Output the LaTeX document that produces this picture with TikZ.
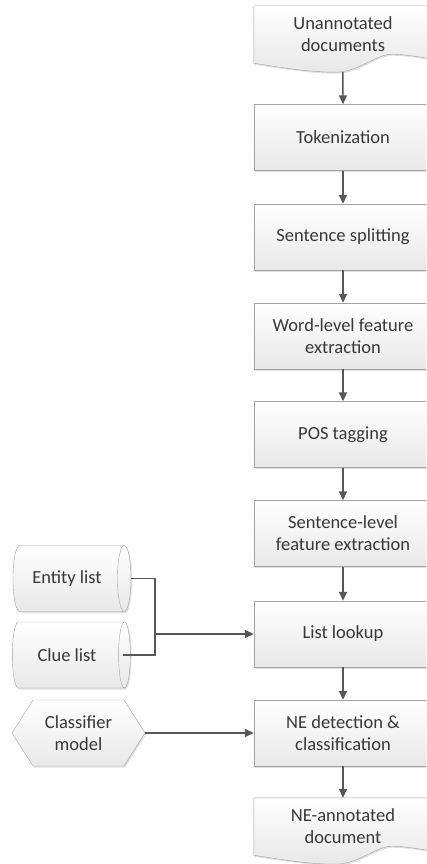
\documentclass[tikz,border=0pt]{standalone}
\usepackage{fontspec}
\setmainfont{Carlito}
\usetikzlibrary{arrows.meta,calc,shapes.geometric,shapes.symbols,shadows,backgrounds}
\definecolor{boxline}{HTML}{A3A3A3}
\definecolor{flowline}{HTML}{575757}
\definecolor{boxtext}{HTML}{383838}
\newcommand{\docwave}[1]{%
  \draw[docline] (#1.north west) -- (#1.north east) -- ($(#1.south east)+(0,-4)$)
    .. controls ($(#1.south west)+(168,-6)$) and ($(#1.south west)+(150,-9)$) .. ($(#1.south west)+(138,-9)$)
    .. controls ($(#1.south west)+(122,-9)$) and ($(#1.south west)+(105,9)$) .. ($(#1.south west)+(81,9)$)
    .. controls ($(#1.south west)+(55,9)$) and ($(#1.south west)+(25,4)$) .. (#1.south west) -- cycle;}

\begin{document}
\begin{tikzpicture}[
    x=1pt, y=-1pt,
    every node/.style={font=\fontsize{18.5}{22}\selectfont, text=boxtext},
    softshadow/.style={drop shadow={shadow xshift=1.2pt, shadow yshift=-1.5pt, opacity=0.35, fill=black!35}},
    proc/.style={rectangle, draw=boxline, top color=white, bottom color=black!9, softshadow,
      minimum width=178pt, minimum height=66pt, align=center},
    docbox/.style={rectangle, minimum width=178pt, minimum height=57pt, align=center},
    docline/.style={draw=boxline, top color=white, bottom color=black!9, softshadow},
    store/.style={cylinder, draw=boxline, top color=white, bottom color=black!9, softshadow,
      aspect=0.6, minimum width=66pt, minimum height=118pt, align=center},
    model/.style={signal, signal to=west and east, signal pointer angle=115, draw=boxline,
      top color=white, bottom color=black!9, softshadow,
      minimum width=133pt, minimum height=66pt, align=center},
    link/.style={line width=1.5pt, draw=flowline},
    flow/.style={link, -{Triangle[length=9pt,width=8pt]}}
    ]
    \clip (0,0) rectangle (426,864);
    \node[docbox] (doc1) at (343,34.5) {Unannotated\\documents};
    \node[proc] (tok) at (343,137.5) {Tokenization};
    \node[proc] (split) at (343,237) {Sentence splitting};
    \node[proc] (wordf) at (343,336) {Word-level feature\\extraction};
    \node[proc] (pos) at (343,434.5) {POS tagging};
    \node[proc] (sentf) at (343,533.5) {Sentence-level\\feature extraction};
    \node[proc] (lookup) at (343,634) {List lookup};
    \node[proc] (detect) at (343,733) {NE detection \&\\classification};
    \node[docbox] (doc2) at (343,826.5) {NE-annotated\\document};
    \node[store] (ent) at (67,578.5) {Entity list};
    \node[store] (clue) at (67,655) {Clue list};
    \node[model] (clf) at (78.5,733) {Classifier\\model};
    \begin{scope}[on background layer]
      \docwave{doc1}
      \docwave{doc2}
    \end{scope}
    \coordinate (doc1dip) at ($(doc1.south west)+(89,9)$);
    \coordinate (join) at (155,634);
    \draw[flow] (doc1dip) -- (tok.north);
    \draw[flow] (tok.south) -- (split.north);
    \draw[flow] (split.south) -- (wordf.north);
    \draw[flow] (wordf.south) -- (pos.north);
    \draw[flow] (pos.south) -- (sentf.north);
    \draw[flow] (sentf.south) -- (lookup.north);
    \draw[flow] (lookup.south) -- (detect.north);
    \draw[flow] (detect.south) -- (doc2.north);
    \draw[link] (ent.east) -| (join) |- ($(clue.east)+(-8,0)$);
    \draw[flow] (join) -- (lookup.west);
    \draw[flow] (clf.east) -- (detect.west);
\end{tikzpicture}
\end{document}
